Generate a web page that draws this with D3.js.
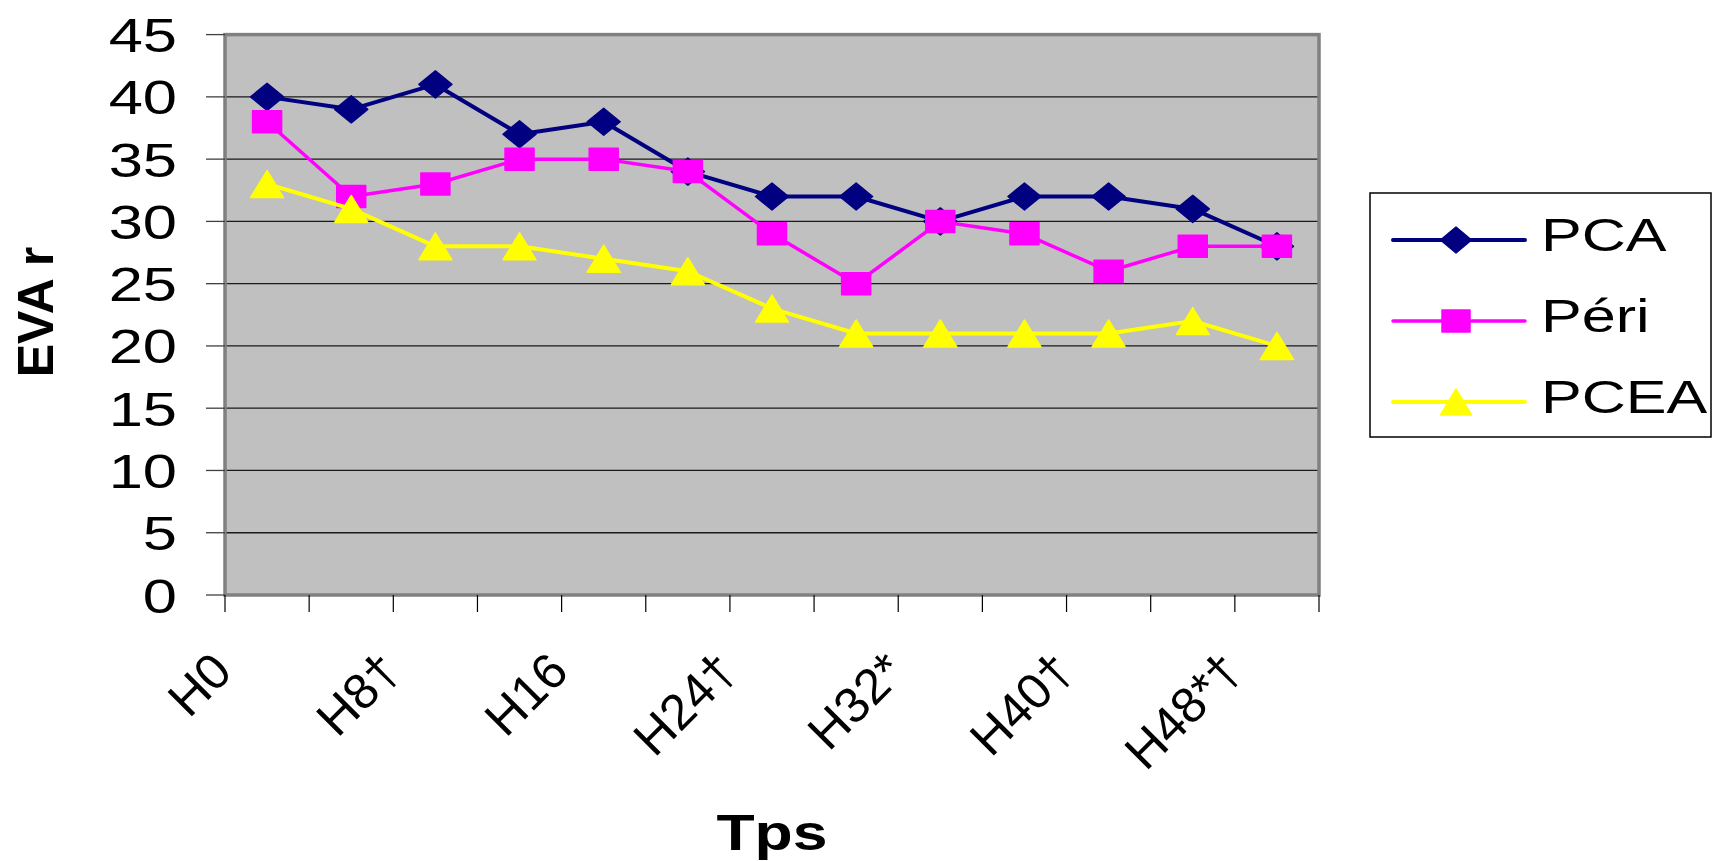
<!DOCTYPE html>
<html>
<head>
<meta charset="utf-8">
<script src="https://cdn.jsdelivr.net/npm/d3@7"></script>
<style>
  body { margin: 0; background: #fff; }
  svg { display: block; }
  text { font-family: "Liberation Sans", Arial, sans-serif; fill: #000; }
</style>
</head>
<body>
<svg id="chart" width="1713" height="861"></svg>
<script>
// Time points (every other one carries a visible label)
const categories = ["H0", "H4", "H8†", "H12", "H16", "H20", "H24†", "H28", "H32*", "H36", "H40†", "H44", "H48*†"];
const labelEvery = 2;

// EVA r per group
const pcaValues  = [40, 39, 41, 37, 38, 34, 32, 32, 30, 32, 32, 31, 28];
const periValues = [38, 32, 33, 35, 35, 34, 29, 25, 30, 29, 26, 28, 28];
const pceaValues = [33, 31, 28, 28, 27, 26, 23, 21, 21, 21, 21, 22, 20];

const seriesNames = ["PCA", "Péri", "PCEA"];
const yTicks = [0, 5, 10, 15, 20, 25, 30, 35, 40, 45];

const xTitle = "Tps";
const yTitle = "EVA r";

// ---- layout ----
const plot = { left: 225, right: 1319, top: 34.6, bottom: 595 };
const textStretch = 1.28;   // horizontal text is drawn wide

const svg = d3.select("#chart");

const x = d3.scaleBand().domain(categories).range([plot.left, plot.right]).paddingInner(0).paddingOuter(0);
const xc = c => x(c) + x.bandwidth() / 2;
const y = d3.scaleLinear().domain([0, 45]).range([plot.bottom, plot.top]);

// plot background
svg.append("rect")
  .attr("x", plot.left).attr("y", plot.top)
  .attr("width", plot.right - plot.left).attr("height", plot.bottom - plot.top)
  .attr("fill", "#c0c0c0");

// horizontal gridlines
svg.append("g").selectAll("line")
  .data(yTicks.filter(v => v > 0 && v < 45))
  .join("line")
  .attr("x1", plot.left).attr("x2", plot.right)
  .attr("y1", d => y(d)).attr("y2", d => y(d))
  .attr("stroke", "#1a1a1a").attr("stroke-width", 1.3);

// plot frame
svg.append("rect")
  .attr("x", plot.left).attr("y", plot.top)
  .attr("width", plot.right - plot.left).attr("height", plot.bottom - plot.top)
  .attr("fill", "none").attr("stroke", "#808080").attr("stroke-width", 3.5);

// y axis ticks + labels
const yAxis = svg.append("g");
yAxis.selectAll("line")
  .data(yTicks).join("line")
  .attr("x1", plot.left - 19).attr("x2", plot.left)
  .attr("y1", d => y(d)).attr("y2", d => y(d))
  .attr("stroke", "#404040").attr("stroke-width", 1.3);
yAxis.selectAll("text")
  .data(yTicks).join("text")
  .attr("transform", d => `translate(177,${y(d) + 17.5}) scale(${textStretch},1)`)
  .attr("text-anchor", "end")
  .attr("font-size", 48)
  .text(d => d);

// x axis ticks at category boundaries
const boundaries = categories.map(c => x(c)).concat([plot.right]);
svg.append("g").selectAll("line")
  .data(boundaries).join("line")
  .attr("x1", d => d).attr("x2", d => d)
  .attr("y1", plot.bottom).attr("y2", plot.bottom + 17)
  .attr("stroke", "#000").attr("stroke-width", 1.2);

// x labels, rotated
svg.append("g").selectAll("text")
  .data(categories.filter((c, i) => i % labelEvery === 0))
  .join("text")
  .attr("transform", d => `translate(${xc(d) - 33},674) rotate(-45)`)
  .attr("text-anchor", "end")
  .attr("font-size", 50)
  .text(d => d);

// axis titles
svg.append("text")
  .attr("transform", `translate(772,850) scale(1.25,1)`)
  .attr("text-anchor", "middle")
  .attr("font-size", 50).attr("font-weight", "bold")
  .text(xTitle);
svg.append("text")
  .attr("transform", `translate(53,312) rotate(-90)`)
  .attr("text-anchor", "middle")
  .attr("font-size", 50).attr("font-weight", "bold")
  .text(yTitle);

// marker shapes (half-width, half-height)
const markerPath = {
  diamond: (w, h) => `M0,${-h}L${w},0L0,${h}L${-w},0Z`,
  square: (w, h) => `M${-w},${-h}H${w}V${h}H${-w}Z`,
  triangle: (w, h) => `M0,${-h}L${w},${h}L${-w},${h}Z`
};

const series = [
  { name: seriesNames[0], values: pcaValues,  color: "#000080", shape: "diamond",  w: 16.5, h: 13.5, lw: 4 },
  { name: seriesNames[1], values: periValues, color: "#ff00ff", shape: "square",   w: 14.5, h: 11,   lw: 3.5 },
  { name: seriesNames[2], values: pceaValues, color: "#ffff00", shape: "triangle", w: 16.5, h: 13.5, lw: 4 }
];

const line = d3.line().x((d, i) => xc(categories[i])).y(d => y(d));

series.forEach(s => {
  const g = svg.append("g");
  g.append("path")
    .attr("d", line(s.values))
    .attr("fill", "none").attr("stroke", s.color)
    .attr("stroke-width", s.lw).attr("stroke-linejoin", "round");
  g.selectAll("path.m")
    .data(s.values).join("path")
    .attr("class", "m")
    .attr("transform", (d, i) => `translate(${xc(categories[i])},${y(d)})`)
    .attr("d", markerPath[s.shape](s.w, s.h))
    .attr("fill", s.color)
    .attr("stroke", s.color).attr("stroke-width", 1.5).attr("stroke-linejoin", "round");
});

// legend
const legend = svg.append("g");
legend.append("rect")
  .attr("x", 1370).attr("y", 193).attr("width", 341).attr("height", 244)
  .attr("fill", "#fff").attr("stroke", "#000").attr("stroke-width", 1.5);
const legendY = [240, 321, 402];
series.forEach((s, i) => {
  const ly = legendY[i];
  legend.append("line")
    .attr("x1", 1393).attr("x2", 1525).attr("y1", ly).attr("y2", ly)
    .attr("stroke", s.color).attr("stroke-width", s.lw).attr("stroke-linecap", "round");
  legend.append("path")
    .attr("transform", `translate(1456,${ly})`)
    .attr("d", markerPath[s.shape](s.shape === "square" ? 14 : 15.5, s.shape === "square" ? 11 : 13))
    .attr("fill", s.color).attr("stroke", s.color).attr("stroke-width", 1.5).attr("stroke-linejoin", "round");
  legend.append("text")
    .attr("transform", `translate(1541,${ly + 11}) scale(1.3,1)`)
    .attr("font-size", 47)
    .text(s.name);
});
</script>
</body>
</html>
